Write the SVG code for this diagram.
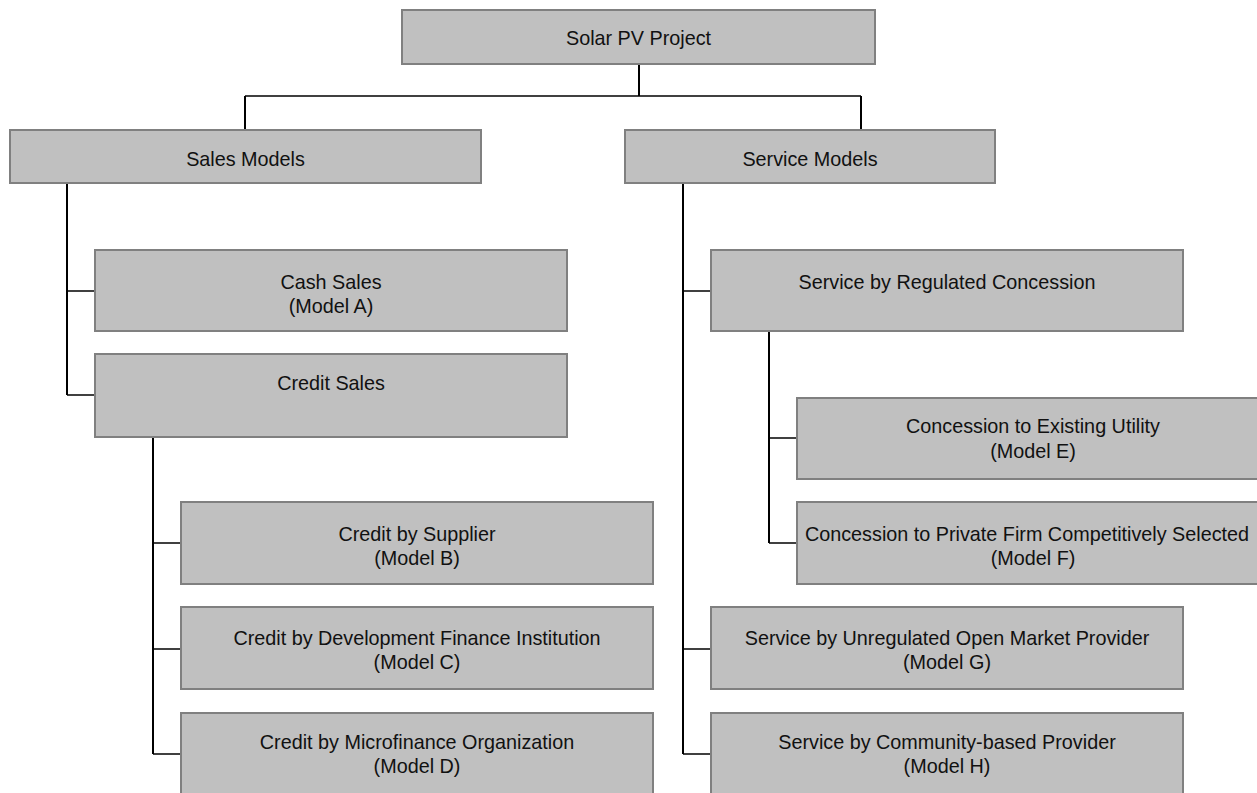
<svg xmlns="http://www.w3.org/2000/svg" width="1257" height="793" viewBox="0 0 1257 793">
  <style>
    .box { fill: #c0c0c0; stroke: #808080; stroke-width: 2; }
    .lbl { font-family: "Liberation Sans", Arial, sans-serif; font-size: 19.8px; fill: #111; text-anchor: middle; }
    .v { stroke: #000; stroke-width: 2; fill: none; }
    .h { stroke: #000; stroke-width: 1.5; fill: none; }
  </style>
  <rect width="1257" height="793" fill="#ffffff"/>

  <!-- connectors -->
  <g id="connectors">
    <path class="v" d="M639 64 V96"/>
    <path class="h" d="M245 96 H861"/>
    <path class="v" d="M245 96 V130"/>
    <path class="v" d="M861 96 V130"/>
    <!-- sales branch -->
    <path class="v" d="M67 183 V395"/>
    <path class="h" d="M67 291 H95"/>
    <path class="h" d="M67 395 H95"/>
    <!-- credit sales branch -->
    <path class="v" d="M153 437 V754"/>
    <path class="h" d="M153 543 H181"/>
    <path class="h" d="M153 649 H181"/>
    <path class="h" d="M153 754 H181"/>
    <!-- service branch -->
    <path class="v" d="M683 183 V754"/>
    <path class="h" d="M683 291 H711"/>
    <path class="h" d="M683 649 H711"/>
    <path class="h" d="M683 754 H711"/>
    <!-- regulated concession branch -->
    <path class="v" d="M769 331 V543"/>
    <path class="h" d="M769 438 H797"/>
    <path class="h" d="M769 543 H797"/>
  </g>

  <g id="root">
    <rect class="box" x="402" y="10" width="473" height="54"/>
    <text class="lbl" x="638.5" y="45">Solar PV Project</text>
  </g>

  <g id="sales-models">
    <rect class="box" x="10" y="130" width="471" height="53"/>
    <text class="lbl" x="245.5" y="166">Sales Models</text>
  </g>

  <g id="service-models">
    <rect class="box" x="625" y="130" width="370" height="53"/>
    <text class="lbl" x="810" y="166">Service Models</text>
  </g>

  <g id="cash-sales">
    <rect class="box" x="95" y="250" width="472" height="81"/>
    <text class="lbl" x="331" y="289">Cash Sales</text>
    <text class="lbl" x="331" y="313">(Model A)</text>
  </g>

  <g id="credit-sales">
    <rect class="box" x="95" y="354" width="472" height="83"/>
    <text class="lbl" x="331" y="390">Credit Sales</text>
  </g>

  <g id="model-b">
    <rect class="box" x="181" y="502" width="472" height="82"/>
    <text class="lbl" x="417" y="541">Credit by Supplier</text>
    <text class="lbl" x="417" y="565">(Model B)</text>
  </g>

  <g id="model-c">
    <rect class="box" x="181" y="607" width="472" height="82"/>
    <text class="lbl" x="417" y="645">Credit by Development Finance Institution</text>
    <text class="lbl" x="417" y="669">(Model C)</text>
  </g>

  <g id="model-d">
    <rect class="box" x="181" y="713" width="472" height="90"/>
    <text class="lbl" x="417" y="749">Credit by Microfinance Organization</text>
    <text class="lbl" x="417" y="773">(Model D)</text>
  </g>

  <g id="regulated-concession">
    <rect class="box" x="711" y="250" width="472" height="81"/>
    <text class="lbl" x="947" y="289">Service by Regulated Concession</text>
  </g>

  <g id="model-e">
    <rect class="box" x="797" y="398" width="472" height="81"/>
    <text class="lbl" x="1033" y="433">Concession to Existing Utility</text>
    <text class="lbl" x="1033" y="458">(Model E)</text>
  </g>

  <g id="model-f">
    <rect class="box" x="797" y="502" width="472" height="82"/>
    <text class="lbl" x="1027" y="541">Concession to Private Firm Competitively Selected</text>
    <text class="lbl" x="1033" y="565">(Model F)</text>
  </g>

  <g id="model-g">
    <rect class="box" x="711" y="607" width="472" height="82"/>
    <text class="lbl" x="947" y="645">Service by Unregulated Open Market Provider</text>
    <text class="lbl" x="947" y="669">(Model G)</text>
  </g>

  <g id="model-h">
    <rect class="box" x="711" y="713" width="472" height="90"/>
    <text class="lbl" x="947" y="749">Service by Community-based Provider</text>
    <text class="lbl" x="947" y="773">(Model H)</text>
  </g>
</svg>
